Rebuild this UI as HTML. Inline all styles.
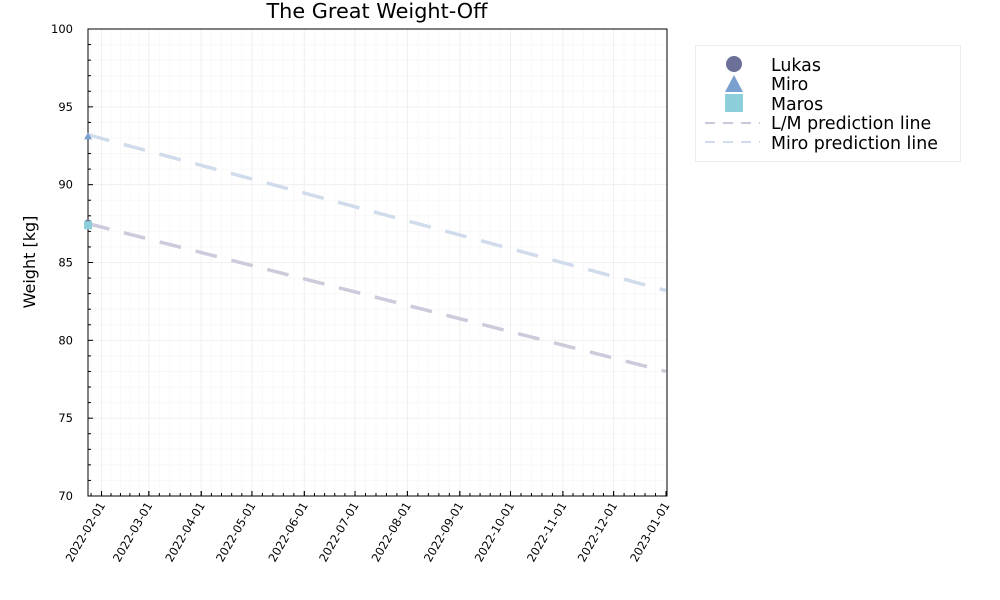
<!DOCTYPE html>
<html><head><meta charset="utf-8"><style>
html,body{margin:0;padding:0;background:#fff;}
svg{display:block;font-family:"DejaVu Sans","Liberation Sans",sans-serif;}
</style></head><body>
<svg id="chart" width="1000" height="600">
<text x="377" y="18" font-size="20.8" text-anchor="middle">The Great Weight-Off</text>
<text transform="translate(35,262) rotate(-90)" font-size="16" text-anchor="middle">Weight [kg]</text>
<g id="grid"></g>
<g id="axes"></g>
<g id="series"></g>
<g>
<rect x="695.5" y="45.5" width="265" height="116" fill="#fff" stroke="#ececec"/>
<circle cx="734" cy="64" r="8" fill="#6b7098"/>
<text x="771" y="71" font-size="17.4">Lukas</text>
<polygon points="734,75 725,92 743,92" fill="#7aa0cf"/>
<text x="771" y="90" font-size="17.4">Miro</text>
<rect x="725" y="94" width="18" height="18" fill="#8ccfdb"/>
<text x="771" y="110" font-size="17.4">Maros</text>
<line x1="705" y1="123" x2="760" y2="123" stroke="#c8c8da" stroke-width="2" stroke-dasharray="10,8"/>
<text x="771" y="129" font-size="17.4">L/M prediction line</text>
<line x1="705" y1="142" x2="760" y2="142" stroke="#d0dcec" stroke-width="2" stroke-dasharray="10,8"/>
<text x="771" y="149" font-size="17.4">Miro prediction line</text>
</g>
</svg>
<script>
const xTickLabels=["2022-02-01","2022-03-01","2022-04-01","2022-05-01","2022-06-01","2022-07-01","2022-08-01","2022-09-01","2022-10-01","2022-11-01","2022-12-01","2023-01-01"];
const yTicks=[70,75,80,85,90,95,100];
const lmDates=["2022-01-24","2023-01-01"];
const lmValues=[87.5,78.0];
const miroDates=["2022-01-24","2023-01-01"];
const miroValues=[93.2,83.2];
const lukasDates=["2022-01-24"];
const lukasValues=[87.5];
const miroPtDates=["2022-01-24"];
const miroPtValues=[93.1];
const marosDates=["2022-01-24"];
const marosValues=[87.4];

const NS="http://www.w3.org/2000/svg";
const L=88,R=667,T=29,B=496;
const d0=Date.parse("2022-01-24"),d1=Date.parse("2023-01-01")+0.6*864e5;
const xS=d=>L+(Date.parse(d)-d0)/(d1-d0)*(R-L);
const xT=t=>L+(t-d0)/(d1-d0)*(R-L);
const yS=v=>B-(v-70)/30*(B-T);
function mk(tag,attrs,parent){const e=document.createElementNS(NS,tag);for(const k in attrs)e.setAttribute(k,attrs[k]);parent.appendChild(e);return e;}
const grid=document.getElementById('grid'),axes=document.getElementById('axes'),ser=document.getElementById('series');
for(let v=70;v<=100;v++){
 const y=yS(v);
 const g=mk('line',{x1:L,x2:R,y1:y,y2:y,stroke:v%5===0?'#efefef':'#f8f8f8','stroke-width':1},grid);
 
 
 const t=mk('line',{x1:L,x2:L+(v%5===0?5:3),y1:y,y2:y,stroke:'#000'},axes);
 
 
}
const majors=xTickLabels.map(d=>Date.parse(d));
const allMaj=[Date.parse("2022-01-01")].concat(majors);
for(let i=0;i<allMaj.length-1;i++){
 for(let k=0;k<5;k++){
  const t=allMaj[i]+(allMaj[i+1]-allMaj[i])*k/5;
  const x=xT(t);
  if(x<L-0.5||x>R+0.5)continue;
  const g=mk('line',{x1:x,x2:x,y1:T,y2:B,stroke:k===0?'#efefef':'#f8f8f8'},grid);
  
  
  const tk=mk('line',{x1:x,x2:x,y1:B,y2:B-(k===0?5:3),stroke:'#000'},axes);
  
  
 }
}
mk('rect',{x:L,y:T,width:R-L,height:B-T,fill:'none',stroke:'#000','stroke-width':1},axes);
xTickLabels.forEach(d=>{
 const x=xS(d);
 const t=mk('line',{x1:x,x2:x,y1:B,y2:B-5,stroke:'#000'},axes);
 
 
 const tx=mk('text',{transform:`translate(${x+4},${B+9}) rotate(-60)`,'font-size':11.5,'text-anchor':'end'},axes);
 tx.textContent=d;
 
 
});
yTicks.forEach(v=>{
 const tx=mk('text',{x:L-15,y:yS(v)+4,'font-size':11.5,'text-anchor':'end'},axes);
 tx.textContent=v;
 
 
});
function line(dates,vals,color,name){
 const p=dates.map((d,i)=>xS(d)+','+yS(vals[i])).join(' ');
 const e=mk('polyline',{points:p,fill:'none',stroke:color,'stroke-width':3.5,'stroke-dasharray':'22,15'},ser);
 
 
}
line(lmDates,lmValues,'#cbcbdb','lm-prediction-line');
line(miroDates,miroValues,'#d0dcec','miro-prediction-line');
lukasDates.forEach((d,i)=>{const c=mk('circle',{cx:xS(d),cy:yS(lukasValues[i]),r:4,fill:'#6b7098'},ser);
 
 });
miroPtDates.forEach((d,i)=>{const x=xS(d),y=yS(miroPtValues[i]);const c=mk('polygon',{points:`${x},${y-4} ${x-4},${y+3} ${x+4},${y+3}`,fill:'#7aa0cf'},ser);
 
 });
marosDates.forEach((d,i)=>{const x=xS(d),y=yS(marosValues[i]);const c=mk('rect',{x:x-4,y:y-4,width:8,height:8,fill:'#8ccfdb'},ser);
 
 });
</script>
</body></html>
